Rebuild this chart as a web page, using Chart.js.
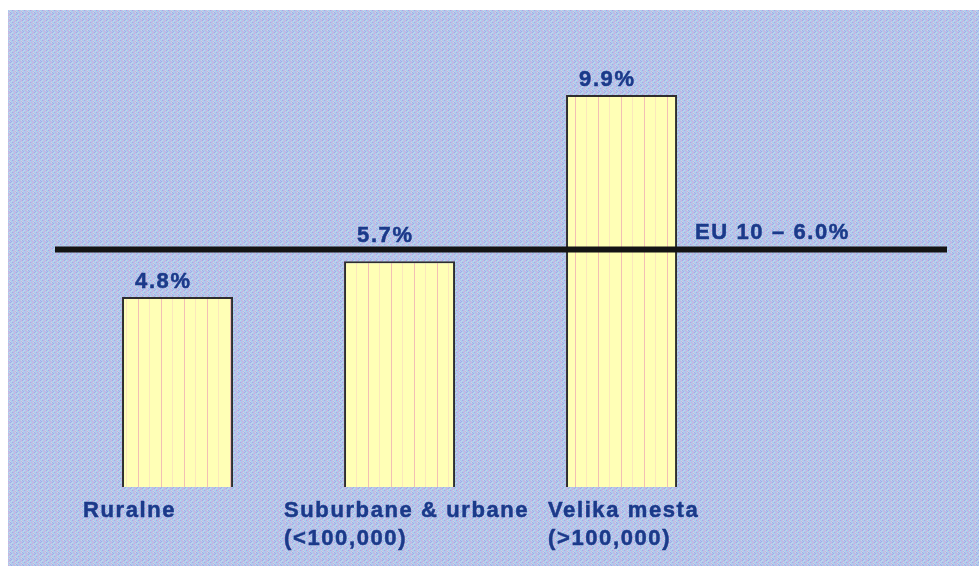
<!DOCTYPE html>
<html>
<head>
<meta charset="utf-8">
<script src="https://cdn.jsdelivr.net/npm/chart.js@4"></script>
<style>
  html, body { margin: 0; padding: 0; background: #ffffff; }
  #wrap { position: absolute; left: 0; top: 0; width: 979px; height: 569px; }
  canvas { display: block; }
</style>
</head>
<body>
<div id="wrap"><canvas id="c" width="979" height="569"></canvas></div>
<script>
// ---- data ----
const categories = [
  ['Ruralne'],
  ['Suburbane & urbane', '(<100,000)'],
  ['Velika mesta', '(>100,000)']
];
const values = [4.8, 5.7, 9.9];
const valueLabels = ['4.8%', '5.7%', '9.9%'];
const euValue = 6.0;
const euLabel = 'EU 10 \u2013 6.0%';
const yMin = 0, yMax = 10;

// ---- styles ----
const textColor = '#1b3a8a';
const font = 'bold 22px "Liberation Sans", Arial, Helvetica, sans-serif';
const labelOffsets = [-39, -60, -18]; // left edge of category label relative to bar left

function makeBgPattern() {
  const B = '#afcbec', P = '#d0aadb', V = '#a4a9e8', G = '#c4d6e8';
  const rows = [
    [B, P, B, G, V, B],
    [B, B, P, B, B, V],
    [G, B, B, P, V, B],
    [B, B, P, B, B, G],
    [V, P, B, G, B, B],
    [B, B, B, P, G, B]
  ];
  const c = document.createElement('canvas');
  c.width = 6; c.height = 6;
  const g = c.getContext('2d');
  rows.forEach((r, y) => r.forEach((col, x) => { g.fillStyle = col; g.fillRect(x, y, 1, 1); }));
  return c;
}
function makeBarPattern() {
  const c = document.createElement('canvas');
  c.width = 23; c.height = 4;
  const g = c.getContext('2d');
  g.fillStyle = '#ffffb6'; g.fillRect(0, 0, 23, 4);
  g.fillStyle = '#f2bfb4'; g.fillRect(0, 0, 1, 4);
  g.fillStyle = '#fbe6bc'; g.fillRect(11, 0, 1, 4);
  return c;
}

const ctx0 = document.getElementById('c').getContext('2d');
const bgPattern = ctx0.createPattern(makeBgPattern(), 'repeat');
const barPattern = ctx0.createPattern(makeBarPattern(), 'repeat');

const backgroundPlugin = {
  id: 'bg',
  beforeDraw(chart) {
    const g = chart.ctx;
    g.save();
    g.fillStyle = bgPattern;
    g.fillRect(8, 10, chart.width - 8, chart.height - 13);
    g.restore();
  }
};

function drawText(g, s, x, y) {
  g.fillText(s, x, y);
  g.strokeText(s, x, y);
}

const overlayPlugin = {
  id: 'overlay',
  afterDatasetsDraw(chart) {
    const g = chart.ctx;
    const ys = chart.scales.y;
    const area = chart.chartArea;
    const meta = chart.getDatasetMeta(0);
    const lineY = ys.getPixelForValue(euValue);
    g.save();
    // EU reference line
    g.strokeStyle = '#141414';
    g.lineWidth = 6;
    g.beginPath();
    g.moveTo(area.left, lineY);
    g.lineTo(area.right, lineY);
    g.stroke();

    g.font = font;
    try { g.letterSpacing = '1.6px'; } catch (e) {}
    g.fillStyle = textColor;
    g.strokeStyle = textColor;
    g.lineWidth = 0.5;
    g.textAlign = 'left';
    g.textBaseline = 'alphabetic';

    meta.data.forEach((bar, i) => {
      const left = bar.x - bar.width / 2;
      let base = bar.y - 9;
      if (bar.y > lineY - 4 && bar.y - lineY < 20) base = lineY - 7;
      drawText(g, valueLabels[i], left + 13, base);
      categories[i].forEach((line, k) => {
        drawText(g, line, left + labelOffsets[i], area.bottom + 30 + k * 28);
      });
    });

    // EU label to the right of last bar
    const last = meta.data[meta.data.length - 1];
    drawText(g, euLabel, last.x + last.width / 2 + 18, lineY - 10);
    g.restore();
  }
};

new Chart(ctx0, {
  type: 'bar',
  data: {
    datasets: [{
      data: values.map((v, i) => ({ x: i, y: v })),
      backgroundColor: barPattern,
      borderColor: '#2e2e2e',
      borderWidth: 2,
      borderSkipped: 'bottom',
      categoryPercentage: 0.5,
      barPercentage: 1.0
    }]
  },
  options: {
    responsive: false,
    animation: false,
    devicePixelRatio: 1,
    layout: { padding: { left: 55, right: 32, top: 91, bottom: 82 } },
    plugins: { legend: { display: false }, tooltip: { enabled: false } },
    scales: {
      x: {
        type: 'linear',
        display: false,
        offset: false,
        grace: 0,
        min: -0.552,
        max: 3.466,
        afterBuildTicks: (s) => { s.ticks = categories.map((_, i) => ({ value: i })); }
      },
      y: { display: false, min: yMin, max: yMax }
    }
  },
  plugins: [backgroundPlugin, overlayPlugin]
});
</script>
</body>
</html>
